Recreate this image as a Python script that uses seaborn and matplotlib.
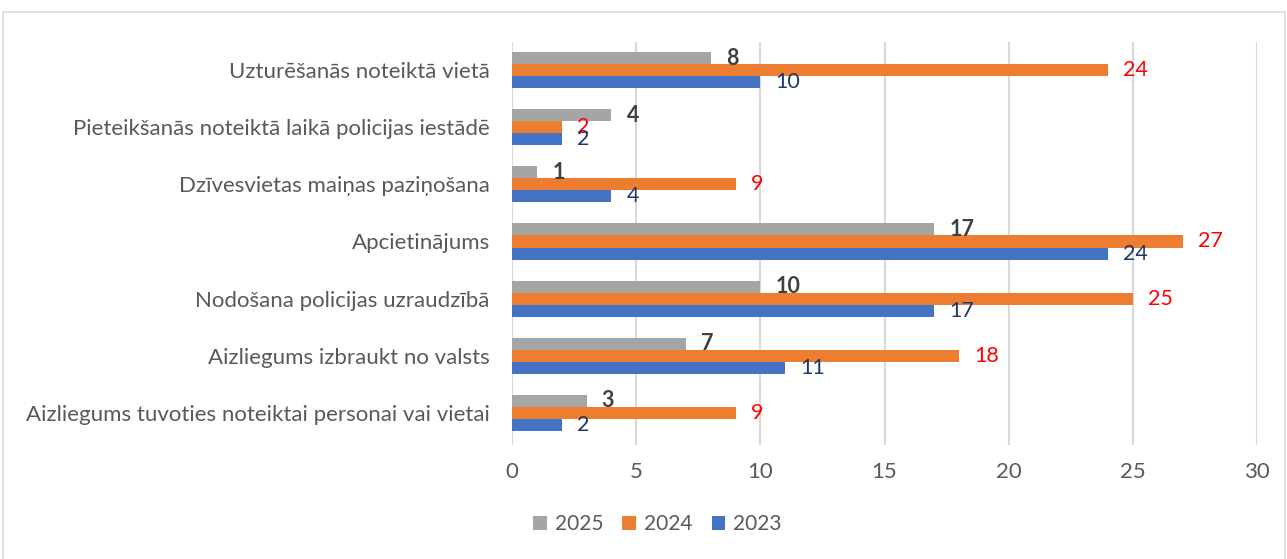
import pandas as pd
import matplotlib
matplotlib.use("Agg")
import matplotlib.pyplot as plt
from matplotlib.patches import Rectangle
import seaborn as sns

categories = [
    "Uzturēšanās noteiktā vietā",
    "Pieteikšanās noteiktā laikā policijas iestādē",
    "Dzīvesvietas maiņas paziņošana",
    "Apcietinājums",
    "Nodošana policijas uzraudzībā",
    "Aizliegums izbraukt no valsts",
    "Aizliegums tuvoties noteiktai personai vai vietai",
]
years = ["2025", "2024", "2023"]
v2025 = [8, 4, 1, 17, 10, 7, 3]
v2024 = [24, 2, 9, 27, 25, 18, 9]
v2023 = [10, 2, 4, 24, 17, 11, 2]
x_ticks = [0, 5, 10, 15, 20, 25, 30]

bar_colors = ["#A5A5A5", "#ED7D31", "#4472C4"]
label_colors = ["#404040", "#FF0000", "#1F3864"]
label_weights = ["bold", "normal", "normal"]

# long format table for seaborn
df = pd.DataFrame({
    "kategorija": categories * 3,
    "gads": [y for y in years for _ in categories],
    "skaits": v2025 + v2024 + v2023,
})

sns.set_theme(style="white")
plt.rcParams["font.family"] = ["Lato", "DejaVu Sans"]

fig = plt.figure(figsize=(12.87, 5.59), dpi=100)
ax = fig.add_axes([512 / 1287, 1 - 445 / 559, (1257 - 512) / 1287, (445 - 42) / 559])

sns.barplot(data=df, y="kategorija", x="skaits", hue="gads", hue_order=years,
            order=categories, palette=bar_colors, orient="h", width=0.63,
            saturation=1, linewidth=0, ax=ax)

for cont, col, wt in zip(ax.containers, label_colors, label_weights):
    labs = ax.bar_label(cont, padding=11, color=col, fontweight=wt, fontsize=15.5)
    for t in labs:
        t.set_y(t.get_position()[1])
        t.set_va("center")

ax.set_xlim(0, 30)
ax.set_ylim(6.56, -0.49)
ax.set_xticks(x_ticks)
ax.grid(axis="x", color="#D9D9D9", linewidth=1.5)
ax.set_axisbelow(True)
for s in ax.spines.values():
    s.set_visible(False)
ax.set_xlabel("")
ax.set_ylabel("")
ax.tick_params(axis="both", length=0, labelsize=16, labelcolor="#595959")
ax.tick_params(axis="x", pad=12)
ax.tick_params(axis="y", pad=16)

handles, labels = ax.get_legend_handles_labels()
ax.get_legend().remove()
fig.legend(handles, labels, loc="center", bbox_to_anchor=(0.511, 1 - 524 / 559),
           ncol=3, frameon=False, fontsize=15, labelcolor="#595959",
           handlelength=0.65, handleheight=0.65, handletextpad=0.4, columnspacing=0.9)

# chart area border
fig.patches.append(Rectangle((3 / 1287, -0.05), 1282 / 1287, 1.05 - 12 / 559,
                             transform=fig.transFigure, fill=False,
                             edgecolor="#D9D9D9", linewidth=1.2))

fig.savefig("out.png", dpi=100)
